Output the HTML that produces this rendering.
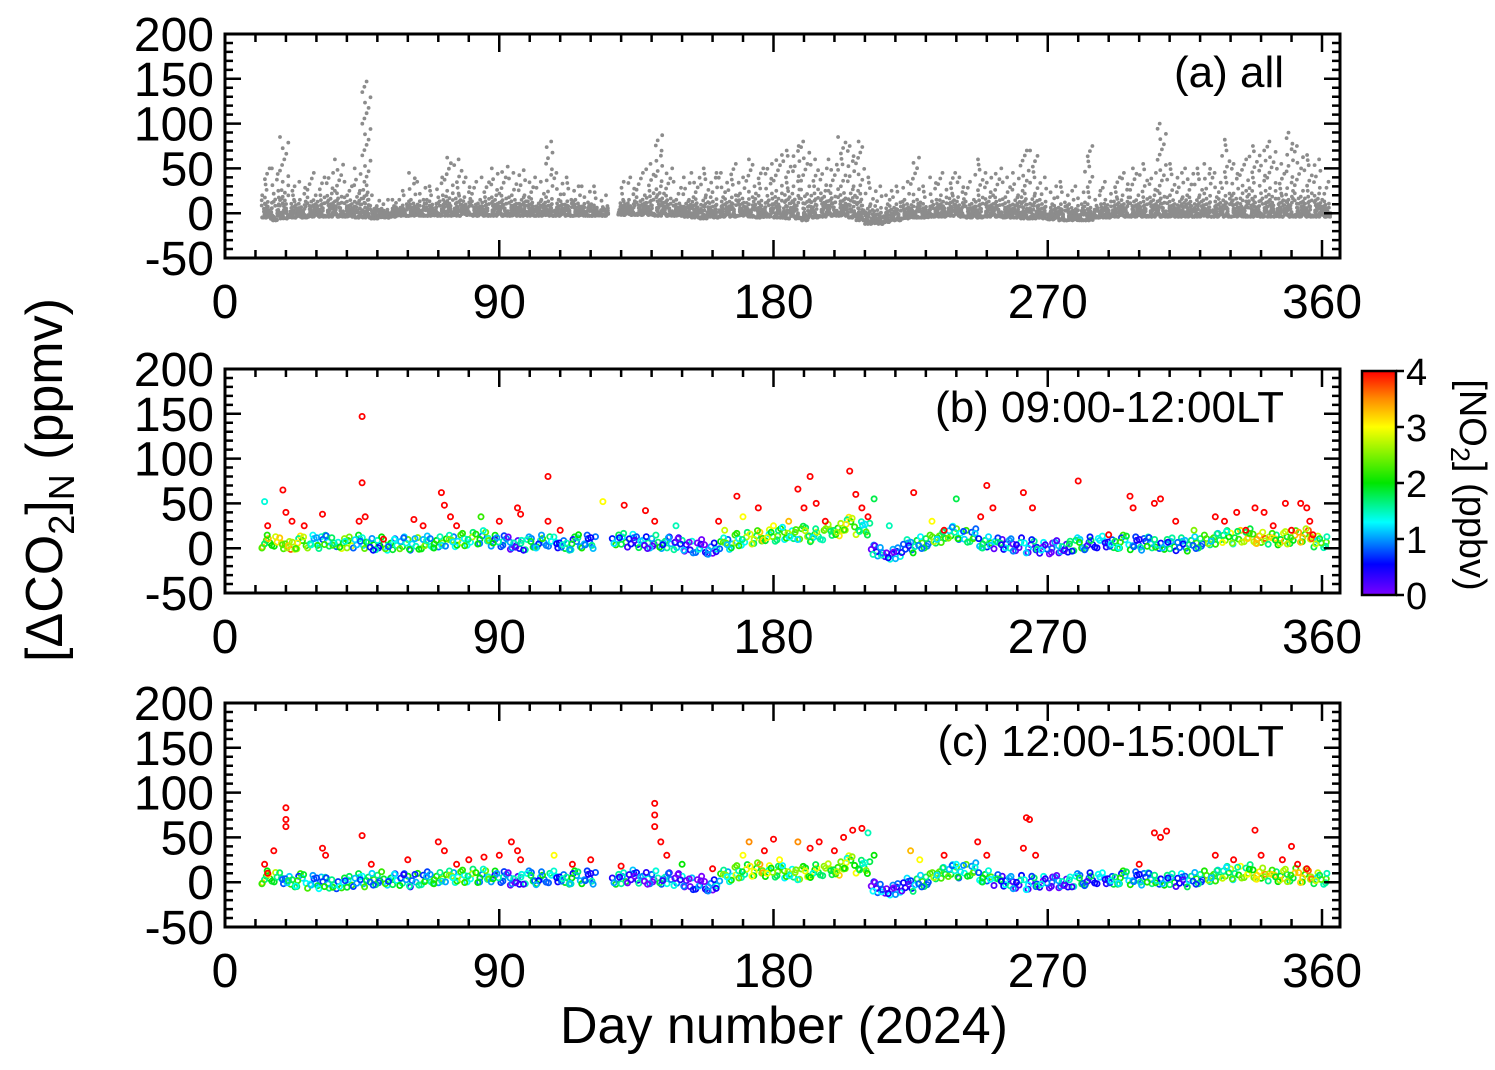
<!DOCTYPE html>
<html><head><meta charset="utf-8"><style>
body{margin:0;background:#fff}
svg{display:block;font-family:"Liberation Sans",Arial,sans-serif}
</style></head><body>
<svg id="chart" width="1495" height="1070" viewBox="0 0 1495 1070" xmlns="http://www.w3.org/2000/svg" style="position:absolute;left:0;top:0">
<rect width="1495" height="1070" fill="#fff"/>
<g id="layer"></g>
</svg>
<script>
// ---- data ----
const aStartDay = 12, aStep = 3;
const aHigh = [50,50,85,30,35,45,40,45,60,35,
 50,147,20,15,15,25,45,35,30,40,
 62,60,40,35,40,50,52,45,48,40,
 35,80,45,40,30,30,30,20,null,35,
 40,45,55,87,50,35,40,45,50,45,
 45,55,40,60,50,55,65,70,75,80,
 60,50,60,85,75,80,40,30,25,30,
 35,62,30,40,45,45,40,35,60,45,
 50,40,45,70,70,40,30,35,25,30,
 75,25,35,40,45,50,55,45,100,55,
 45,50,50,55,45,82,55,60,75,70,
 80,55,90,75,65,60,35];
const aLow = [-5,-8,-6,-5,-5,-4,-4,-4,-4,-4,
 -5,-5,-6,-5,-4,-3,-3,-3,-3,-3,
 -3,-3,-2,-3,-3,-3,-3,-3,-3,-3,
 -3,-3,-3,-3,-3,-3,-3,-3,null,-2,
 -2,-2,-2,-3,-3,-3,-4,-5,-6,-5,
 -4,-4,-3,-4,-5,-4,-5,-6,-6,-8,
 -5,-4,-3,-3,-5,-8,-12,-12,-10,-8,
 -6,-5,-5,-4,-4,-3,-4,-5,-5,-4,
 -4,-5,-5,-6,-6,-6,-7,-8,-8,-8,
 -8,-5,-5,-4,-4,-4,-4,-4,-4,-4,
 -4,-4,-4,-4,-4,-4,-4,-4,-4,-4,
 -4,-4,-4,-4,-4,-4,-4];
const aTypical = [20,25,35,15,15,20,20,22,25,20,
 25,35,8,5,8,10,15,15,15,20,
 25,22,18,15,18,20,22,20,20,18,
 15,18,15,15,15,12,10,8,null,15,
 15,20,25,30,22,15,15,18,20,18,
 18,20,22,18,22,22,25,28,30,30,
 30,25,25,30,30,25,10,8,10,12,
 15,15,12,15,20,22,18,15,20,18,
 20,18,20,25,22,15,10,12,10,10,
 12,10,15,18,20,20,18,20,25,20,
 18,20,20,22,18,22,22,25,28,25,
 28,22,28,25,25,22,15];

const baseStart = 12, baseStep = 5;
const bBaseVal = [5,3,4,5,6,4,5, 3,2,3,4,5,6,8, 10,6,4,3,5,4,3, 5,null,8,6,5,4,2, 0,-2,3,8,10,12,15, 15,12,18,25,20,-5,-8, 0,5,10,15,12,5,3, 2,0,-2,0,2,3,5, 5,3,4,3,2,5,8, 10,12,10,8,10,12,5];
const bBaseNo2 = [2.5,3,2.2,1.8,1.5,2,1.6, 1.3,1.4,1.6,1.8,1.5,1.7,2, 1.5,1.2,0.8,1,1.4,1.2,1, 1.3,0,1.2,1,0.9,1.1,0.8, 0.7,0.5,1.6,2,2.3,2.1,2, 1.8,2,2.4,2.2,2,0.8,0.5, 1.2,1.6,1.8,1.7,1.5,1.2,0.9, 0.8,0.7,0.5,0.9,1.2,1,1.1, 1.3,1.2,1.4,1.1,1.3,1.5,1.7, 2.2,2.5,2.8,2.4,2.6,2.8,2];
const cBaseVal = [3,2,0,-2,-3,-2,0, 2,1,0,2,3,4,5, 5,4,2,3,2,4,3, 3,null,2,4,3,2,0, -3,-5,5,10,12,10,10, 8,10,12,20,15,-8,-10, -5,0,8,10,12,5,0, -2,-3,-2,-1,0,1,2, 3,2,2,1,0,3,5, 8,10,8,5,6,5,2];
const cBaseNo2 = [2.4,1.5,1.3,1.5,1.4,1.3,1.5, 1.5,1.3,1.2,1.4,1.6,1.8,2, 1.5,1.2,0.8,0.9,1.3,1.2,1.1, 1.2,0,1,0.8,0.7,0.9,0.6, 0.4,0.5,1.8,2.2,2.5,2.2,2, 2,2.2,2.5,2,2.2,0.6,0.4, 0.9,1.5,1.8,1.6,1.7,1.4,1, 0.9,0.8,0.6,0.8,0.9,1,1.1, 1.2,1.3,1.4,1.1,1,1.4,1.7, 2,2.3,2.6,2.4,2.5,2.7,2];

const bPeakDay = [13,14,19,20,22,26,32,45,45,44,46,52,62,65,71,72,74,76,84,90,96,97,106,106,110,116,124,131,138,141,148,162,164,168,170,175,180,185,188,190,192,194,197,205,207,209,211,213,218,226,232,236,240,248,250,252,262,265,280,290,297,298,305,307,312,318,325,328,332,335,338,341,344,348,350,353,355,356,357];
const bPeakVal = [52,25,65,40,30,25,38,147,73,30,35,10,32,25,62,48,35,25,35,30,45,38,80,30,20,15,52,48,42,30,25,30,20,58,35,45,25,30,66,45,80,50,30,86,60,45,35,55,25,62,30,20,55,35,70,45,62,45,75,15,58,45,50,55,30,20,35,30,40,20,45,40,25,50,20,50,45,30,15];
const bPeakNo2 = [1.4,4,4,4,4,4,4,4,4,4,4,4,4,4,4,4,4,4,2.2,4,4,4,4,4,4,2,3,4,4,4,1.5,4,2.8,4,3,4,3,3.3,4,4,4,4,4,4,4,4,4,1.8,1.5,4,3,4,1.8,4,4,4,4,4,4,4,4,4,4,4,4,2.5,4,4,4,4,4,4,4,4,4,4,4,4,4];

const cPeakDay = [13,14,16,20,20,20,32,33,45,48,60,70,72,76,80,85,90,94,96,97,108,114,120,130,141,141,141,143,145,150,160,170,172,177,180,182,188,192,195,200,203,206,209,211,213,225,228,236,240,247,250,262,263,264,266,300,305,307,309,325,331,338,340,347,350,352,355];
const cPeakVal = [20,10,35,83,70,62,38,30,52,20,25,45,35,20,25,28,30,45,35,25,30,20,25,18,88,75,62,45,30,20,15,30,45,35,48,25,45,38,45,35,50,58,60,55,30,35,25,30,20,45,30,38,72,70,30,20,55,50,57,30,25,58,30,25,40,20,15];
const cPeakNo2 = [4,4,4,4,4,4,4,4,4,4,4,4,4,4,4,4,4,4,4,4,3,4,4,4,4,4,4,4,4,2,4,3,3.5,4,4,3,3.5,4,4,4,4,4,4,1.5,2,3.3,3,4,1.3,4,4,4,4,4,4,4,4,4,4,4,4,4,4,4,4,4,4];

const xTicks = [0,90,180,270,360];
const yTicks = [-50,0,50,100,150,200];
const cbTicks = [0,1,2,3,4];

// ---- layout ----
const NS = "http://www.w3.org/2000/svg";
const layer = document.getElementById('layer');
const L = 225, R = 1340, dayPx = (1322 - 225) / 360;
const panels = [{top:34,bot:258,name:'panel-a',label:'(a) all'},
                {top:369,bot:593,name:'panel-b',label:'(b) 09:00-12:00LT'},
                {top:703,bot:927,name:'panel-c',label:'(c) 12:00-15:00LT'}];
function xS(d){return L + d*dayPx;}
function yS(p,v){return p.bot - (v+50)*(p.bot-p.top)/250;}
function mk(tag, attrs, parent){const e=document.createElementNS(NS,tag);for(const k in attrs)e.setAttribute(k,attrs[k]);(parent||layer).appendChild(e);return e;}

const stops=[[0,[122,0,255]],[0.55,[0,0,255]],[1.3,[0,255,255]],[2,[0,230,0]],[3,[255,255,0]],[3.5,[255,140,0]],[4,[255,0,0]]];
function cmap(v){v=Math.max(0,Math.min(4,v));for(let i=1;i<stops.length;i++){if(v<=stops[i][0]){const a=stops[i-1],b=stops[i];const t=(v-a[0])/(b[0]-a[0]);const c=a[1].map((x,j)=>Math.round(x+(b[1][j]-x)*t));return `rgb(${c})`;}}return 'rgb(255,0,0)';}

// jitter patterns (rendering only)
const jx=[0.07,0.83,0.31,0.55,0.19,0.92,0.44,0.68,0.02,0.37,0.76,0.25,0.61,0.13,0.49,0.88,0.33,0.71];
const jf=[0.12,0.63,0.05,0.41,0.88,0.27,0.71,0.18,0.52,0.95,0.34,0.08,0.77,0.23,0.58,0.46,0.02,0.84];

panels.forEach((p,pi)=>{
  const g=mk('g',{});
  
  
  const dg=mk('g',{},g);
  
  
  if(pi===0){
    aHigh.forEach((hi,i)=>{
      if(hi===null) return;
      const d0=aStartDay+i*aStep, lo=aLow[i], ty=aTypical[i];
      for(let k=0;k<jx.length*2;k++){
        const d=d0+jx[k%jx.length]*aStep;
        const f=jf[(k*5+i)%jf.length];
        const v=lo+(ty-lo)*f*f*(k<jx.length?1:0.7);
        const c=mk('circle',{cx:xS(d).toFixed(1),cy:yS(p,v).toFixed(1),r:1.9,fill:'#8c8c8c'},dg);
        
        
      }
      const n=Math.max(2,Math.round((hi-ty)/6));
      for(let k=0;k<=n;k++){
        const d=d0+jx[(k*3+i)%jx.length]*aStep;
        const v=ty+(hi-ty)*k/n;
        const c=mk('circle',{cx:xS(d).toFixed(1),cy:yS(p,v).toFixed(1),r:1.9,fill:'#8c8c8c'},dg);
        
        
      }
    });
  } else {
    const bv=pi===1?bBaseVal:cBaseVal, bn=pi===1?bBaseNo2:cBaseNo2;
    const pd=pi===1?bPeakDay:cPeakDay, pv=pi===1?bPeakVal:cPeakVal, pn=pi===1?bPeakNo2:cPeakNo2;
    bv.forEach((v,i)=>{
      if(v===null) return;
      const d0=baseStart+i*baseStep;
      for(let k=0;k<10;k++){
        const d=d0+jx[(k+i)%jx.length]*baseStep;
        const vv=v+(jf[(k*7+i)%jf.length]-0.35)*16;
        const nn=bn[i]+(jf[(k*3+i+4)%jf.length]-0.45)*1.8;
        const c=mk('circle',{cx:xS(d).toFixed(1),cy:yS(p,vv).toFixed(1),r:2.6,fill:'none',stroke:cmap(nn),'stroke-width':1.8},dg);
        
        
      }
    });
    pd.forEach((d,i)=>{
      const c=mk('circle',{cx:xS(d).toFixed(1),cy:yS(p,pv[i]).toFixed(1),r:2.6,fill:'none',stroke:cmap(pn[i]),'stroke-width':1.8},dg);
      
      
    });
  }
  const fr=mk('rect',{x:L,y:p.top,width:R-L,height:p.bot-p.top,fill:'none',stroke:'#000','stroke-width':3},g);
  
  
  let path='';
  for(let d=10; d<=360; d+=10){
    const len=(d%90===0)?18:8, x=xS(d);
    path+=`M${x},${p.bot}v${-len}M${x},${p.top}v${len}`;
  }
  for(let v=-40; v<200; v+=10){
    const len=(v%50===0)?16:8, y=yS(p,v);
    path+=`M${L},${y}h${len}M${R},${y}h${-len}`;
  }
  const tk=mk('path',{d:path,stroke:'#000','stroke-width':2.5,fill:'none'},g);
  
  
  yTicks.forEach(v=>{
    const t=mk('text',{x:214,y:yS(p,v)+17,'text-anchor':'end','font-size':48,fill:'#000'},g);
    t.textContent=v;
    
    
  });
  xTicks.forEach(d=>{
    const t=mk('text',{x:xS(d),y:p.bot+60,'text-anchor':'middle','font-size':48,fill:'#000'},g);
    t.textContent=d;
    
    
  });
  const lb=mk('text',{x:1284,y:p.top+53,'text-anchor':'end','font-size':44,fill:'#000'},g);
  lb.textContent=p.label;
  
  
});

// colorbar
const cbX=1362, cbW=34, cbT=371, cbB=595;
const defs=mk('defs',{});
const grad=mk('linearGradient',{id:'rb',x1:0,y1:1,x2:0,y2:0},defs);
stops.forEach(s=>mk('stop',{offset:s[0]/4,'stop-color':`rgb(${s[1]})`},grad));
const cb=mk('rect',{x:cbX,y:cbT,width:cbW,height:cbB-cbT,fill:'url(#rb)',stroke:'#000','stroke-width':2.5});


cbTicks.forEach(v=>{
  const y=cbB-v*(cbB-cbT)/4;
  mk('line',{x1:cbX+cbW,x2:cbX+cbW+8,y1:y,y2:y,stroke:'#000','stroke-width':2.5});
  const t=mk('text',{x:cbX+cbW+10,y:y+14,'font-size':38,fill:'#000'});
  t.textContent=v;
  
  
});
</script>
<svg style="position:absolute;left:0;top:0" width="1495" height="1070">
<text transform="translate(62,480) rotate(-90)" text-anchor="middle" font-size="52" font-family="Liberation Sans,Arial,sans-serif">[ΔCO<tspan font-size="36" dy="12">2</tspan><tspan dy="-12">]</tspan><tspan font-size="36" dy="12">N</tspan><tspan dy="-12"> (ppmv)</tspan></text>
<text x="784" y="1043" text-anchor="middle" font-size="52" font-family="Liberation Sans,Arial,sans-serif">Day number (2024)</text>
<text transform="translate(1460,485) rotate(90)" text-anchor="middle" font-size="38" font-family="Liberation Sans,Arial,sans-serif">[NO<tspan font-size="27" dy="9">2</tspan><tspan dy="-9">] (ppbv)</tspan></text>
</svg>
</body></html>
